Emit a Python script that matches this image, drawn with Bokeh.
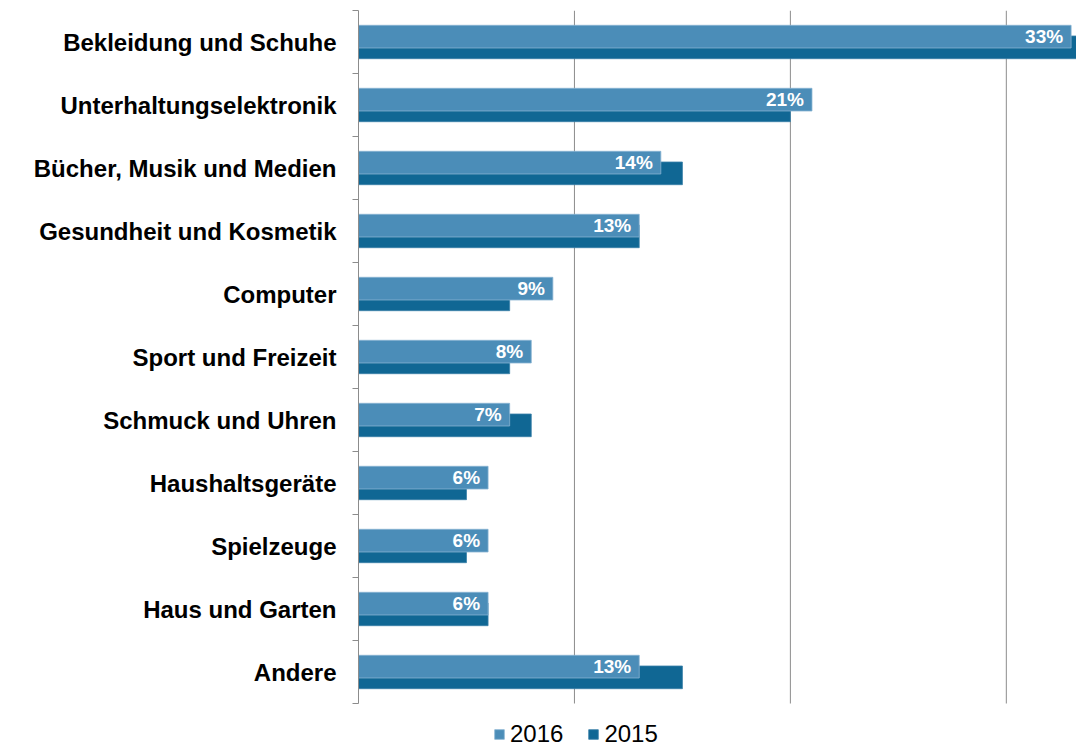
from bokeh.plotting import figure
from bokeh.models import (ColumnDataSource, Range1d, FixedTicker, Legend, LegendItem, LabelSet)
from bokeh.core.properties import value
from bokeh.embed import file_html
from bokeh.resources import INLINE

categories = ["Bekleidung und Schuhe", "Unterhaltungselektronik", "Bücher, Musik und Medien",
              "Gesundheit und Kosmetik", "Computer", "Sport und Freizeit", "Schmuck und Uhren",
              "Haushaltsgeräte", "Spielzeuge", "Haus und Garten", "Andere"]
values_2016 = [33, 21, 14, 13, 9, 8, 7, 6, 6, 6, 13]
values_2015 = [34, 20, 15, 13, 7, 7, 8, 5, 5, 6, 15]
value_labels = [f"{v}%" for v in values_2016]
grid_ticks = [10, 20, 30]

C2016 = "#4B8DB8"
C2015 = "#106794"
GRID = "#8c8c8c"
FONT = "Liberation Sans"

n = len(categories)
pos = list(range(n))
src = ColumnDataSource(dict(
    y16=[i - 0.085 for i in pos], y15=[i + 0.085 for i in pos],
    v16=values_2016, v15=values_2015, lab=value_labels))

# frame runs to the bottom of the canvas; the extra 45px below the last
# category hosts the legend
extra = 45 / 63.0
p = figure(width=1076, height=748, output_backend="svg", toolbar_location=None,
           x_range=Range1d(0, 33.25), y_range=Range1d(n - 0.5 + extra, -0.5),
           min_border_left=358, min_border_right=0, min_border_top=10, min_border_bottom=0)
p.outline_line_color = None
p.background_fill_color = "white"
p.xgrid.visible = False
p.ygrid.visible = False
p.xaxis.visible = False

# vertical grid lines, limited to the category area
p.segment(x0=grid_ticks, x1=grid_ticks, y0=[-0.5] * len(grid_ticks),
          y1=[n - 0.5] * len(grid_ticks), line_color=GRID, line_width=1)

r15 = p.hbar(y="y15", right="v15", left=0, height=0.36, source=src,
             fill_color=C2015, line_color="#3a80a8", line_width=0.8)
r16 = p.hbar(y="y16", right="v16", left=0, height=0.36, source=src,
             fill_color=C2016, line_color="#86b3d2", line_width=0.8)

labels = LabelSet(x="v16", y="y16", text="lab", source=src, x_offset=-8,
                  text_align="right", text_baseline="middle", text_color="white",
                  text_font=value(FONT), text_font_style="bold", text_font_size="19px")
p.add_layout(labels)

# y axis: labels at centers, ticks at boundaries
p.yaxis.bounds = (-0.5, n - 0.5)
p.yaxis.ticker = FixedTicker(ticks=pos, minor_ticks=[i - 0.5 for i in range(n + 1)])
p.yaxis.major_label_overrides = {i: c for i, c in enumerate(categories)}
p.yaxis.major_tick_out = 0
p.yaxis.major_tick_in = 0
p.yaxis.minor_tick_out = 6
p.yaxis.minor_tick_in = 0
p.yaxis.minor_tick_line_color = GRID
p.yaxis.axis_line_color = GRID
p.yaxis.major_label_standoff = 16
p.yaxis.major_label_text_font = FONT
p.yaxis.major_label_text_font_style = "bold"
p.yaxis.major_label_text_font_size = "24px"
p.yaxis.major_label_text_color = "black"

legend = Legend(items=[LegendItem(label="2016", renderers=[r16]),
                       LegendItem(label="2015", renderers=[r15])],
                orientation="horizontal", location=(135, 0),
                glyph_width=12, glyph_height=12, label_standoff=5, spacing=24,
                padding=0, margin=0, border_line_color=None, background_fill_alpha=0,
                label_text_font=FONT, label_text_font_size="24px", label_text_color="black")
p.add_layout(legend, "center")

open("out.html", "w").write(file_html(p, INLINE))
